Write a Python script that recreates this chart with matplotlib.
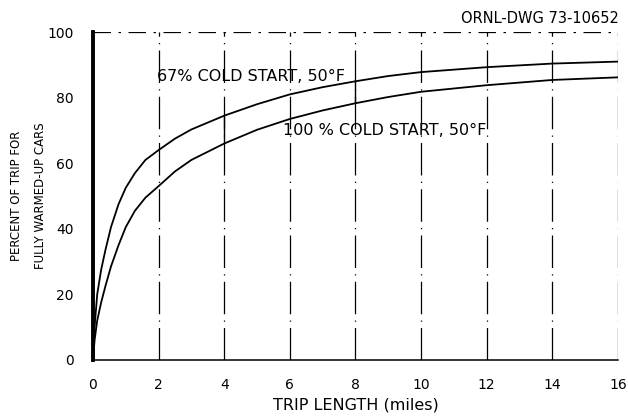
import numpy as np
import matplotlib.pyplot as plt

# trip length (miles) and percent of trip for fully warmed-up cars
trip_miles = [0, 0.05, 0.13, 0.25, 0.38, 0.55, 0.78, 1.0, 1.28, 1.6, 2, 2.5, 3,
              4, 5, 6, 7, 8, 9, 10, 12, 14, 16]
cold_67 = [0, 10, 20, 27.5, 33.5, 40.5, 47.5, 52.5, 57, 61, 64, 67.5, 70.3,
           74.5, 78, 81, 83.2, 85, 86.6, 87.8, 89.3, 90.4, 91]
cold_100 = [0, 6, 12, 17.5, 22.5, 28.5, 35, 40.5, 45.5, 49.5, 53, 57.5, 61,
            66, 70.2, 73.5, 76.1, 78.3, 80.2, 81.8, 83.8, 85.4, 86.2]

x_ticks = [0, 2, 4, 6, 8, 10, 12, 14, 16]
y_ticks = [0, 20, 40, 60, 80, 100]

plt.rcParams['font.family'] = ['DejaVu Sans']

fig = plt.figure(figsize=(6.28, 4.17), dpi=100)
ax = fig.add_axes([0.148, 0.137, 0.836, 0.786])

# broken dash-dot grid, as on the scanned drawing
for xv in x_ticks[1:]:
    ax.axvline(xv, color='black', lw=0.9, linestyle=(0, (26, 5, 1, 5)), zorder=1)
ax.axhline(100, color='black', lw=0.9, linestyle=(0, (14, 6, 2, 6)), zorder=1)

ax.plot(trip_miles, cold_67, color='black', lw=1.3, zorder=3)
ax.plot(trip_miles, cold_100, color='black', lw=1.3, zorder=3)

# solid ties between the two curves at 4 and 8 miles
for xv in [4, 8]:
    ax.vlines(xv, np.interp(xv, trip_miles, cold_100), np.interp(xv, trip_miles, cold_67),
              color='black', lw=1.0, zorder=3)

ax.text(1.95, 86.5, '67% COLD START, 50°F', fontsize=11.5, va='center', ha='left')
ax.text(5.8, 70.0, '100 % COLD START, 50°F', fontsize=11.5, va='center', ha='left')
fig.text(0.985, 0.955, 'ORNL-DWG 73-10652', fontsize=10.5, ha='right', va='center')

ax.set_xlim(0, 16)
ax.set_ylim(0, 100)
ax.set_xticks(x_ticks)
ax.set_yticks(y_ticks)
ax.tick_params(length=0, labelsize=10, pad=13)
ax.tick_params(axis='y', pad=14)

for side in ['top', 'right']:
    ax.spines[side].set_visible(False)
ax.spines['left'].set_linewidth(2.8)
ax.spines['bottom'].set_linewidth(1.1)

ax.set_xlabel('TRIP LENGTH (miles)', fontsize=11.5, labelpad=4)
ax.set_ylabel('PERCENT OF TRIP FOR\nFULLY WARMED-UP CARS', fontsize=8.5,
              linespacing=2.1)
ax.yaxis.set_label_coords(-0.088, 0.5)

fig.savefig('out.png', dpi=100)
